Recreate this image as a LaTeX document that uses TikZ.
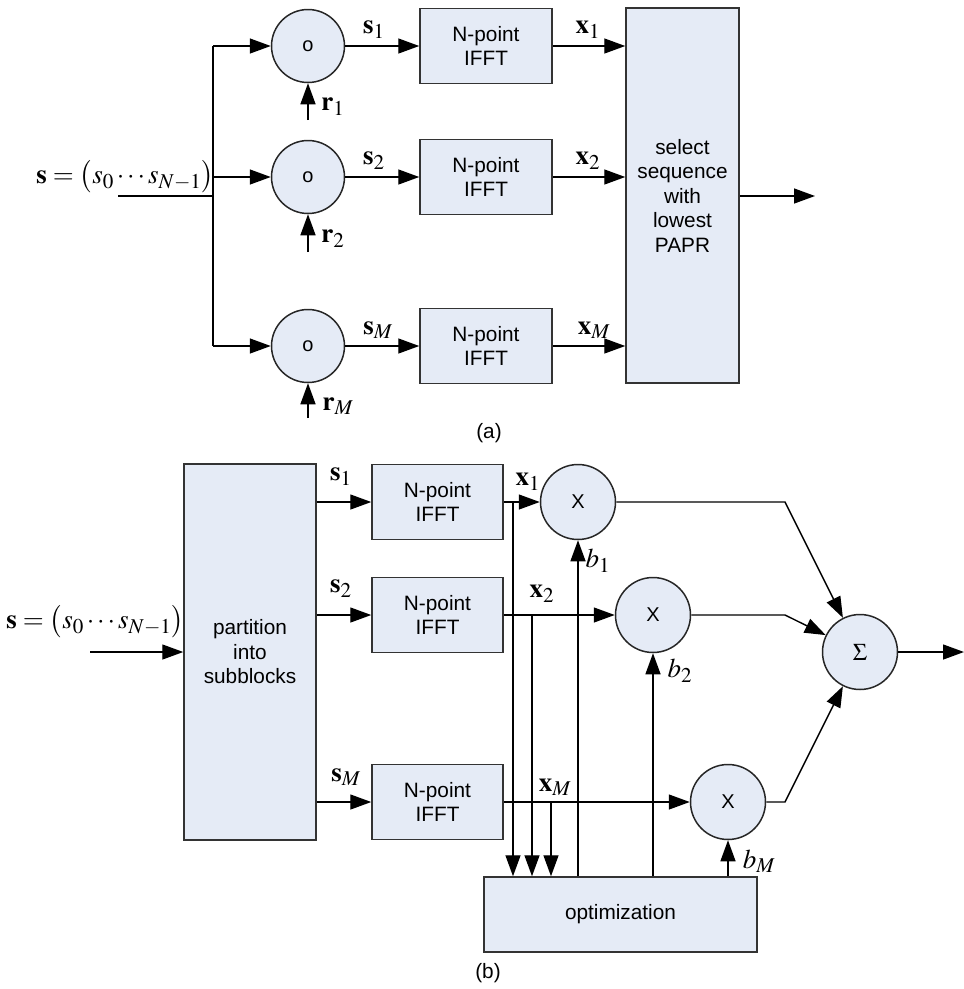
\documentclass[tikz,border=0pt]{standalone}
\usepackage{mathptmx}
\usepackage[no-math]{fontspec}
\setmainfont{Liberation Sans}
\usetikzlibrary{arrows.meta}

\def\defaultscriptratio{.78}
\definecolor{blockfill}{RGB}{229,235,246}

\tikzset{
  block/.style={draw=black!80, fill=blockfill, line width=1.5pt, inner sep=0pt,
    align=center, font=\fontsize{20.8}{24.5}\selectfont},
  mixer/.style={circle, draw=black!85, fill=blockfill, line width=1.5pt, inner sep=0pt,
    font=\fontsize{20}{22}\selectfont},
  sig/.style={-{Triangle[length=21pt,width=15pt]}, line width=1.4pt},
  wire/.style={line width=1.4pt},
  lbl/.style={inner sep=0pt, font=\fontsize{27}{29}\selectfont},
}

\begin{document}
\begin{tikzpicture}[x=1pt, y=-1pt]
    \useasboundingbox (0,0) rectangle (964,989);

    % Sizes of the blocks
    \def\fftW{132}
    \def\fftH{75}

    % ---------------- (a) ----------------
    % Draw the multipliers and the IFFT blocks
    \node[mixer, minimum size=73pt] (ca1) at (308,46) {o};
    \node[mixer, minimum size=73pt] (ca2) at (308,177) {o};
    \node[mixer, minimum size=73pt] (ca3) at (308,346) {o};
    \node[block, minimum width=\fftW pt, minimum height=\fftH pt] (fa1) at (486,46) {N-point\\IFFT};
    \node[block, minimum width=\fftW pt, minimum height=\fftH pt] (fa2) at (486,177) {N-point\\IFFT};
    \node[block, minimum width=\fftW pt, minimum height=\fftH pt] (fa3) at (486,346) {N-point\\IFFT};
    \node[block, minimum width=113pt, minimum height=375pt] (sel) at (682.5,195.5) {select\\sequence\\with\\lowest\\PAPR};

    % Input and branching
    \coordinate (ina) at (118,196);
    \coordinate (ja) at (213,196);
    \coordinate (ja1) at (213,46);
    \coordinate (ja2) at (213,177);
    \coordinate (ja3) at (213,346);
    \draw[wire] (ina) -- (ja);
    \draw[wire] (ja1) -- (ja3);
    \draw[sig] (ja1) -- (ca1);
    \draw[sig] (ja2) -- (ca2);
    \draw[sig] (ja3) -- (ca3);
    \node[lbl, anchor=east] (sa) at (214,177) {$\mathbf{s}=\bigl(s_0\cdots s_{N-1}\bigr)$};

    % Phase sequences
    \coordinate (ra1) at (308,120);
    \coordinate (ra2) at (308,252);
    \coordinate (ra3) at (308,418);
    \draw[sig] (ra1) -- (ca1);
    \draw[sig] (ra2) -- (ca2);
    \draw[sig] (ra3) -- (ca3);
    \node[lbl] (r1) at (333,107) {$\mathbf{r}_1$};
    \node[lbl] (r2) at (333,239) {$\mathbf{r}_2$};
    \node[lbl] (r3) at (338,406) {$\mathbf{r}_M$};

    % Signal paths
    \draw[sig] (ca1) -- (fa1);
    \draw[sig] (ca2) -- (fa2);
    \draw[sig] (ca3) -- (fa3);
    \node[lbl] (sa1) at (374,30) {$\mathbf{s}_1$};
    \node[lbl] (sa2) at (374,161) {$\mathbf{s}_2$};
    \node[lbl] (sa3) at (378,330) {$\mathbf{s}_M$};
    \draw[sig] (fa1.east) -- (fa1.east -| sel.west);
    \draw[sig] (fa2.east) -- (fa2.east -| sel.west);
    \draw[sig] (fa3.east) -- (fa3.east -| sel.west);
    \node[lbl] (xa1) at (588,30) {$\mathbf{x}_1$};
    \node[lbl] (xa2) at (588,161) {$\mathbf{x}_2$};
    \node[lbl] (xa3) at (594,330) {$\mathbf{x}_M$};

    % Output
    \coordinate (outa) at (815,196);
    \draw[sig] (sel.east |- outa) -- (outa);

    \node[font=\fontsize{20.8}{24}\selectfont] (capa) at (489,433) {(a)};

    % ---------------- (b) ----------------
    % Draw the blocks
    \node[block, minimum width=132pt, minimum height=376pt] (part) at (250,652) {partition\\into\\subblocks};
    \node[block, minimum width=131pt, minimum height=\fftH pt] (fb1) at (437.5,502) {N-point\\IFFT};
    \node[block, minimum width=131pt, minimum height=\fftH pt] (fb2) at (437.5,615) {N-point\\IFFT};
    \node[block, minimum width=131pt, minimum height=\fftH pt] (fb3) at (437.5,802) {N-point\\IFFT};
    \node[block, minimum width=273pt, minimum height=75pt] (opt) at (620.5,914.5) {optimization};

    % Draw the multipliers and the adder
    \node[mixer, minimum size=75pt] (m1) at (578,502) {X};
    \node[mixer, minimum size=75pt] (m2) at (653,615) {X};
    \node[mixer, minimum size=75pt] (m3) at (728,802) {X};
    \node[mixer, minimum size=75pt, font=\fontsize{24}{26}\selectfont] (sum) at (860,652) {$\Sigma$};

    % Input
    \coordinate (inb) at (90,652);
    \draw[sig] (inb) -- (part.west);
    \node[lbl, anchor=east] (sb) at (184,622) {$\mathbf{s}=\bigl(s_0\cdots s_{N-1}\bigr)$};

    % Subblocks to IFFT
    \draw[sig] (fb1.west -| part.east) -- (fb1.west);
    \draw[sig] (fb2.west -| part.east) -- (fb2.west);
    \draw[sig] (fb3.west -| part.east) -- (fb3.west);
    \node[lbl] (sb1) at (341,477) {$\mathbf{s}_1$};
    \node[lbl] (sb2) at (341,589) {$\mathbf{s}_2$};
    \node[lbl] (sb3) at (346,777) {$\mathbf{s}_M$};

    % IFFT outputs to the multipliers
    \draw[sig] (fb1.east) -- (m1);
    \draw[sig] (fb2.east) -- (m2);
    \draw[sig] (fb3.east) -- (m3);
    \node[lbl] (xb1) at (528,482) {$\mathbf{x}_1$};
    \node[lbl] (xb2) at (542,594) {$\mathbf{x}_2$};
    \node[lbl] (xb3) at (555,787) {$\mathbf{x}_M$};

    % Taps into the optimization
    \coordinate (t1) at (513,502);
    \coordinate (t2) at (532,615);
    \coordinate (t3) at (551,802);
    \draw[sig] (t1) -- (t1 |- opt.north);
    \draw[sig] (t2) -- (t2 |- opt.north);
    \draw[sig] (t3) -- (t3 |- opt.north);

    % Weights from the optimization
    \draw[sig] (m1 |- opt.north) -- (m1);
    \draw[sig] (m2 |- opt.north) -- (m2);
    \draw[sig] (m3 |- opt.north) -- (m3);
    \node[lbl] (b1) at (598,561) {$b_1$};
    \node[lbl] (b2) at (680,671) {$b_2$};
    \node[lbl] (b3) at (759,861) {$b_M$};

    % Sum and output
    \coordinate (k1) at (785,502);
    \coordinate (k2) at (785,615);
    \coordinate (k3) at (785,802);
    \draw[sig] (m1) -- (k1) -- (sum);
    \draw[sig] (m2) -- (k2) -- (sum);
    \draw[sig] (m3) -- (k3) -- (sum);
    \coordinate (outb) at (964,652);
    \draw[sig] (sum) -- (outb);

    \node[font=\fontsize{20.8}{24}\selectfont] (capb) at (488,973) {(b)};

\end{tikzpicture}
\end{document}
